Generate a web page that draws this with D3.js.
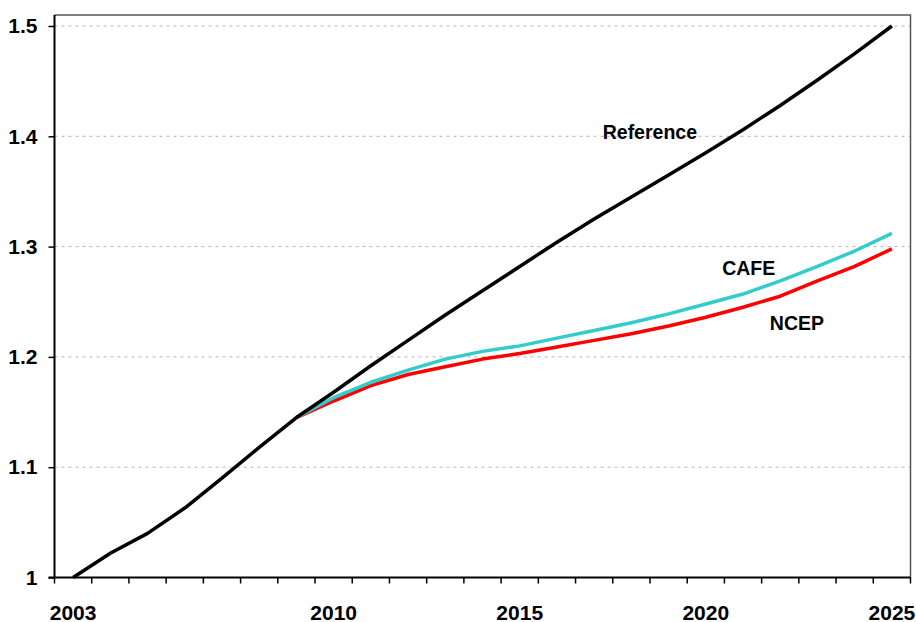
<!DOCTYPE html>
<html><head><meta charset="utf-8">
<script src="https://cdn.jsdelivr.net/npm/d3@7"></script>
<style>
body{margin:0;background:#fff}
svg{display:block}
text{font-family:Arial,"Liberation Sans",sans-serif;font-weight:bold;fill:#000}
</style>
</head><body>
<svg id="c" width="916" height="622"></svg>
<script>
// ---- data ----
const years = [2003,2004,2005,2006,2007,2008,2009,2010,2011,2012,2013,2014,2015,2016,2017,2018,2019,2020,2021,2022,2023,2024,2025];
const referenceValues = [1.000,1.022,1.040,1.063,1.090,1.118,1.145,1.168,1.192,1.215,1.238,1.260,1.282,1.304,1.325,1.345,1.365,1.385,1.406,1.428,1.451,1.475,1.500];
const cafeValues = [null,null,null,null,null,null,1.145,1.163,1.177,1.188,1.198,1.205,1.210,1.217,1.224,1.231,1.239,1.248,1.257,1.269,1.282,1.296,1.312];
const ncepValues = [null,null,null,null,null,null,1.145,1.160,1.174,1.184,1.191,1.198,1.203,1.209,1.215,1.221,1.228,1.236,1.245,1.255,1.269,1.282,1.298];
const yTicks = [1.0,1.1,1.2,1.3,1.4,1.5];
const xLabelYears = [2003,2010,2015,2020,2025];
const seriesLabels = [
  {name:"Reference", year:2017.23, value:1.3975},
  {name:"CAFE", year:2020.44, value:1.2742},
  {name:"NCEP", year:2021.72, value:1.2244}
];

// ---- layout ----
const svg = d3.select("#c");
const L = 54.5, R = 910.5, T = 15, B = 577.5;
const x = d3.scaleBand().domain(years).range([L, R]).paddingInner(0).paddingOuter(0);
const xc = d => x(d) + x.bandwidth()/2;
const xv = d3.scaleLinear().domain([2003, 2025]).range([xc(2003), xc(2025)]);
const y = d3.scaleLinear().domain([1.0, 1.5]).range([B, 26]);

// gridlines
svg.append("g").selectAll("line").data(yTicks.filter(d => d > 1.0)).join("line")
  .attr("x1", L).attr("x2", R).attr("y1", d => y(d)).attr("y2", d => y(d))
  .attr("stroke", "#b4b4b4").attr("stroke-width", 1).attr("stroke-dasharray", "3,4");

// frame top/right
svg.append("path").attr("d", `M${L},${T}H${R}V${B}`).attr("fill", "none")
  .attr("stroke", "#555").attr("stroke-width", 1.5);

// y axis
const yAxis = d3.axisLeft(y).tickValues(yTicks).tickSize(6).tickPadding(11)
  .tickFormat(d => d === 1 ? "1" : d3.format(".1f")(d));
const gy = svg.append("g").attr("transform", `translate(${L},0)`).call(yAxis);
gy.select(".domain").attr("d", `M0,${T}V${B}`).attr("stroke", "#000").attr("stroke-width", 2);
gy.selectAll(".tick line").attr("stroke", "#000").attr("stroke-width", 1.5);
gy.selectAll(".tick text").attr("font-size", 21).attr("font-family", "Arial, 'Liberation Sans', sans-serif").attr("font-weight", "bold").attr("fill", "#000");

// x axis: ticks at category boundaries
const boundaries = years.map(d => x(d)).concat([x(years[years.length-1]) + x.bandwidth()]);
const gx = svg.append("g");
gx.selectAll("line.t").data(boundaries).join("line").attr("class", "t")
  .attr("x1", d => d).attr("x2", d => d).attr("y1", B).attr("y2", B + 6)
  .attr("stroke", "#000").attr("stroke-width", 1.5);
gx.append("line").attr("x1", L - 6).attr("x2", R).attr("y1", B).attr("y2", B)
  .attr("stroke", "#000").attr("stroke-width", 2);
const xAxis = d3.axisBottom(x).tickValues(xLabelYears).tickSize(0).tickPadding(0);
const gxl = svg.append("g").attr("transform", `translate(0,${B})`).call(xAxis);
gxl.select(".domain").remove();
gxl.selectAll(".tick text").attr("font-size", 21).attr("dy", null).attr("y", 42)
  .attr("font-family", "Arial, 'Liberation Sans', sans-serif").attr("font-weight", "bold").attr("fill", "#000");

// lines
const line = d3.line().defined(d => d.v != null).x(d => xc(d.yr)).y(d => y(d.v));
const mk = vals => years.map((yr, i) => ({yr, v: vals[i]}));
svg.append("path").datum(mk(ncepValues)).attr("d", line).attr("fill", "none")
  .attr("stroke", "#ff0000").attr("stroke-width", 3.5).attr("stroke-linejoin", "round");
svg.append("path").datum(mk(cafeValues)).attr("d", line).attr("fill", "none")
  .attr("stroke", "#33cccc").attr("stroke-width", 3.5).attr("stroke-linejoin", "round");
svg.append("path").datum(mk(referenceValues)).attr("d", line).attr("fill", "none")
  .attr("stroke", "#000").attr("stroke-width", 3.5).attr("stroke-linejoin", "round");

// series labels
svg.append("g").selectAll("text").data(seriesLabels).join("text")
  .attr("x", d => xv(d.year)).attr("y", d => y(d.value))
  .attr("font-size", 19.5).text(d => d.name);
</script>
</body></html>
